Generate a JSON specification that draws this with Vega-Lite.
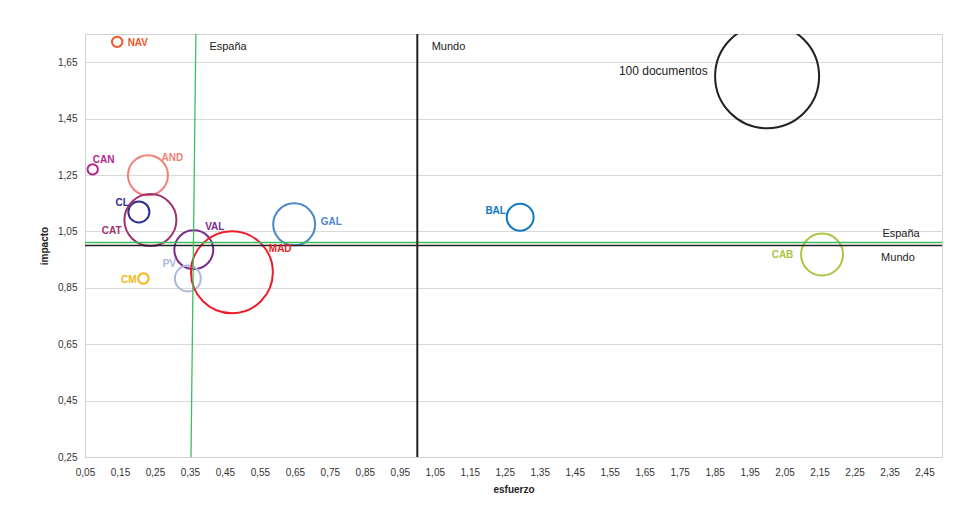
{
  "$schema": "https://vega.github.io/schema/vega-lite/v6.json",
  "width": 857,
  "height": 423,
  "autosize": {"type": "none"},
  "padding": {"left": 85, "top": 34, "right": 23, "bottom": 56},
  "background": "white",
  "config": {
    "font": "Liberation Sans",
    "view": {"stroke": "#d0d0d0", "strokeWidth": 1},
    "axis": {
      "labelFont": "Liberation Sans",
      "labelFontSize": 10,
      "labelColor": "#333333",
      "titleFont": "Liberation Sans",
      "titleFontSize": 10,
      "titleFontWeight": "bold",
      "titleColor": "#222222",
      "domainColor": "#d0d0d0",
      "ticks": false,
      "tickSize": 0,
      "labelOverlap": false,
      "labelFlush": false
    }
  },
  "datasets": {
    "bubbles": [
      {"region": "NAV", "esfuerzo": 0.142, "impacto": 1.722, "documentos": 1},
      {"region": "CAN", "esfuerzo": 0.072, "impacto": 1.27, "documentos": 1},
      {"region": "AND", "esfuerzo": 0.23, "impacto": 1.249, "documentos": 14.8},
      {"region": "CL", "esfuerzo": 0.204, "impacto": 1.119, "documentos": 4.1},
      {"region": "CAT", "esfuerzo": 0.237, "impacto": 1.09, "documentos": 25},
      {"region": "VAL", "esfuerzo": 0.361, "impacto": 0.985, "documentos": 14},
      {"region": "PV", "esfuerzo": 0.344, "impacto": 0.883, "documentos": 6.2},
      {"region": "CM", "esfuerzo": 0.217, "impacto": 0.883, "documentos": 1},
      {"region": "MAD", "esfuerzo": 0.47, "impacto": 0.905, "documentos": 62},
      {"region": "GAL", "esfuerzo": 0.648, "impacto": 1.075, "documentos": 16.3},
      {"region": "BAL", "esfuerzo": 1.294, "impacto": 1.1, "documentos": 6.7},
      {"region": "CAB", "esfuerzo": 2.157, "impacto": 0.968, "documentos": 16.3},
      {"region": "REF", "esfuerzo": 2.0, "impacto": 1.6, "documentos": 100}
    ],
    "labels": [
      {"region": "NAV", "esfuerzo": 0.201, "impacto": 1.717},
      {"region": "CAN", "esfuerzo": 0.103, "impacto": 1.304},
      {"region": "AND", "esfuerzo": 0.30, "impacto": 1.311},
      {"region": "CL", "esfuerzo": 0.156, "impacto": 1.152},
      {"region": "CAT", "esfuerzo": 0.126, "impacto": 1.051},
      {"region": "VAL", "esfuerzo": 0.421, "impacto": 1.066},
      {"region": "PV", "esfuerzo": 0.291, "impacto": 0.934},
      {"region": "MAD", "esfuerzo": 0.608, "impacto": 0.988},
      {"region": "GAL", "esfuerzo": 0.754, "impacto": 1.082},
      {"region": "CM", "esfuerzo": 0.175, "impacto": 0.877},
      {"region": "BAL", "esfuerzo": 1.224, "impacto": 1.123},
      {"region": "CAB", "esfuerzo": 2.044, "impacto": 0.966}
    ],
    "notes": [
      {"text": "España", "esfuerzo": 0.459, "impacto": 1.703},
      {"text": "Mundo", "esfuerzo": 1.089, "impacto": 1.703},
      {"text": "España", "esfuerzo": 2.383, "impacto": 1.04},
      {"text": "Mundo", "esfuerzo": 2.374, "impacto": 0.957}
    ],
    "hLines": [
      {"ref": "España", "impacto": 1.011},
      {"ref": "Mundo", "impacto": 1.0}
    ],
    "vLines": [
      {"ref": "Mundo", "esfuerzo": 1.0}
    ],
    "spainLine": [
      {"esfuerzo": 0.367, "impacto": 1.75},
      {"esfuerzo": 0.353, "impacto": 0.25}
    ]
  },
  "layer": [
    {
      "data": {"name": "bubbles"},
      "mark": {"type": "point", "shape": "circle", "filled": false, "strokeWidth": 2, "opacity": 1, "clip": true},
      "encoding": {
        "x": {
          "field": "esfuerzo", "type": "quantitative",
          "scale": {"domain": [0.05, 2.5], "nice": false, "zero": false},
          "axis": {
            "title": "esfuerzo",
            "values": [0.05, 0.15, 0.25, 0.35, 0.45, 0.55, 0.65, 0.75, 0.85, 0.95, 1.05, 1.15, 1.25, 1.35, 1.45, 1.55, 1.65, 1.75, 1.85, 1.95, 2.05, 2.15, 2.25, 2.35, 2.45],
            "tickCount": 40,
            "labelExpr": "replace(format(datum.value, '.2f'), '.', ',')",
            "grid": false,
            "labelPadding": 10,
            "titlePadding": 7,
            "labelOverlap": false
          }
        },
        "y": {
          "field": "impacto", "type": "quantitative",
          "scale": {"domain": [0.25, 1.75], "nice": false, "zero": false},
          "axis": {
            "title": "impacto",
            "values": [0.25, 0.45, 0.65, 0.85, 1.05, 1.25, 1.45, 1.65],
            "tickCount": 20,
            "labelExpr": "replace(format(datum.value, '.2f'), '.', ',')",
            "grid": true,
            "gridColor": "#d9d9d9",
            "labelPadding": 8,
            "titlePadding": 8,
            "labelOverlap": false
          }
        },
        "size": {
          "field": "documentos", "type": "quantitative",
          "scale": {"domain": [0, 100], "range": [0, 10816], "zero": true},
          "legend": null
        },
        "color": {
          "field": "region", "type": "nominal",
          "scale": {
            "domain": ["NAV", "CAN", "AND", "CL", "CAT", "VAL", "PV", "CM", "MAD", "GAL", "BAL", "CAB", "REF"],
            "range": ["#f0582a", "#b3278c", "#f47f76", "#2c2f8e", "#a0336f", "#7a2d8c", "#aab8dc", "#f4b712", "#ec1c28", "#4c88c8", "#1479c0", "#a8c640", "#222222"]
          },
          "legend": null
        }
      }
    },
    {
      "data": {"name": "hLines"},
      "mark": {"type": "rule", "strokeWidth": 1.5},
      "encoding": {
        "y": {"field": "impacto", "type": "quantitative"},
        "stroke": {
          "field": "ref", "type": "nominal",
          "scale": {"domain": ["España", "Mundo"], "range": ["#3cbf5c", "#222222"]},
          "legend": null
        },
        "strokeWidth": {
          "field": "ref", "type": "nominal",
          "scale": {"domain": ["España", "Mundo"], "range": [1.3, 2]},
          "legend": null
        }
      }
    },
    {
      "data": {"name": "vLines"},
      "mark": {"type": "rule", "color": "#222222", "strokeWidth": 2},
      "encoding": {"x": {"field": "esfuerzo", "type": "quantitative"}}
    },
    {
      "data": {"name": "spainLine"},
      "mark": {"type": "line", "color": "#3cbf5c", "strokeWidth": 1.3},
      "encoding": {
        "x": {"field": "esfuerzo", "type": "quantitative"},
        "y": {"field": "impacto", "type": "quantitative"}
      }
    },
    {
      "data": {"name": "labels"},
      "mark": {"type": "text", "fontSize": 10, "fontWeight": "bold", "align": "center", "baseline": "middle"},
      "encoding": {
        "x": {"field": "esfuerzo", "type": "quantitative"},
        "y": {"field": "impacto", "type": "quantitative"},
        "text": {"field": "region"},
        "color": {"field": "region", "type": "nominal", "legend": null}
      }
    },
    {
      "data": {"name": "notes"},
      "mark": {"type": "text", "fontSize": 11, "color": "#222222", "align": "center", "baseline": "middle"},
      "encoding": {
        "x": {"field": "esfuerzo", "type": "quantitative"},
        "y": {"field": "impacto", "type": "quantitative"},
        "text": {"field": "text"}
      }
    },
    {
      "data": {"values": [{"text": "100 documentos", "esfuerzo": 1.83, "impacto": 1.618}]},
      "mark": {"type": "text", "fontSize": 12, "color": "#222222", "align": "right", "baseline": "middle"},
      "encoding": {
        "x": {"field": "esfuerzo", "type": "quantitative"},
        "y": {"field": "impacto", "type": "quantitative"},
        "text": {"field": "text"}
      }
    }
  ]
}
